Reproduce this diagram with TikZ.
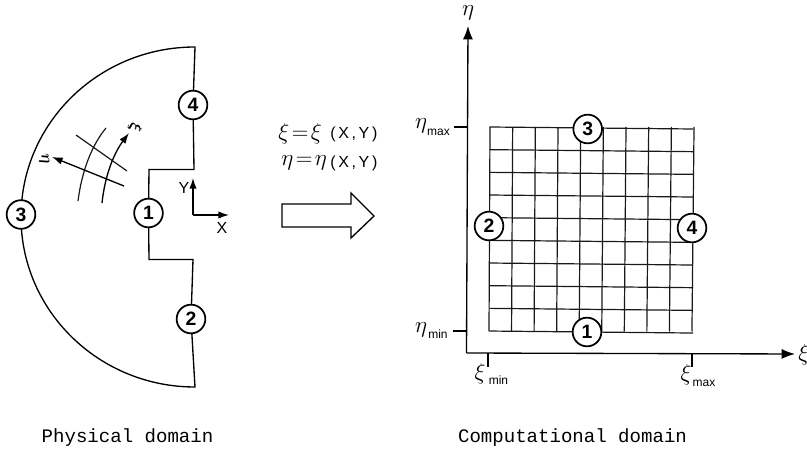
\documentclass[tikz,border=0pt]{standalone}
\usepackage{fontspec}
\setmainfont{Liberation Sans}
\setmonofont{Liberation Mono}
\usetikzlibrary{arrows.meta,backgrounds}
\tikzset{
  every picture/.style={x=0.75pt,y=-0.75pt},
  ink/.style={line width=1pt,black},
  gridline/.style={line width=0.9pt,black!90},
  station/.style={circle,draw=black,line width=1.3pt,fill=white,minimum size=21.5pt,inner sep=0pt,font=\fontsize{14.5}{15}\bfseries\selectfont},
  axisarrow/.style={ink,-{Latex[length=10pt,width=7.5pt]}},
  smallarrow/.style={ink,-{Latex[length=8pt,width=5.5pt]}},
  mathlabel/.style={inner sep=0pt,font=\fontsize{16}{18}\selectfont},
  skewlabel/.style={inner sep=0pt,font=\fontsize{13}{14}\selectfont\mathversion{bold}},
  sublabel/.style={inner sep=0pt,font=\fontsize{9}{10}\selectfont},
  xylabel/.style={inner sep=0pt,font=\fontsize{12}{13}\selectfont},
  caption/.style={inner sep=0pt,font=\fontsize{14.3}{16}\ttfamily\selectfont}
}
\begin{document}
\begin{tikzpicture}
\useasboundingbox (0,0) rectangle (807,452);
% stations, physical domain
\node[station] (p4) at (193,105) {4};
\node[station] (p1) at (148.5,213) {1};
\node[station] (p3) at (21,214.5) {3};
\node[station] (p2) at (191,319) {2};
% stations, computational domain
\node[station] (c3) at (587.7,129) {3};
\node[station] (c2) at (489,226) {2};
\node[station] (c4) at (692,228) {4};
\node[station] (c1) at (587,332) {1};
% corners
\coordinate (tr) at (195,47);
\coordinate (br) at (192,387);
\coordinate (n1) at (194,169.5);
\coordinate (n2) at (149,169.5);
\coordinate (n3) at (149,259.5);
\coordinate (n4) at (193,259.5);
\begin{scope}[on background layer]
  \draw[ink] (p4) -- (tr) arc[start angle=90,end angle=270,x radius=130.5pt,y radius=127.5pt] -- (p2);
  \draw[ink] (p4) -- (n1) -- (n2) -- (p1);
  \draw[ink] (p1) -- (n3) -- (n4) -- (p2);
  \foreach \k in {0,...,9} {
    \draw[gridline] ({490+\k*22.67},127) -- ({489+\k*22.55},331.5);
    \draw[gridline] (489.5,{127+\k*22.67}) -- (693,{129+\k*22.67});
  }
\end{scope}
% curvilinear sketch
\draw[gridline] (78,201) .. controls (82,170) and (92,145) .. (106,128);
\draw[smallarrow] (102,203) .. controls (105,175) and (114,153) .. (129,133);
\draw[gridline] (76,135) -- (127,171);
\draw[smallarrow] (124,186) -- (52,157);
\node[skewlabel,rotate=-100] (xilab) at (135,127) {$\xi$};
\node[skewlabel,rotate=-80] (etalab) at (44,159) {$\eta$};
% x,y axes
\coordinate (o) at (193,215);
\coordinate (yend) at (193,178);
\coordinate (xend) at (229,215);
\draw[smallarrow] (o) -- (yend);
\draw[smallarrow] (o) -- (xend);
\node[xylabel] (ylab) at (184,188) {Y};
\node[xylabel] (xlab) at (222,228) {X};
% mapping
\node[mathlabel,anchor=west] (f1a) at (278,134) {$\xi\!=\!\xi$};
\node[xylabel,anchor=west] (f1b) at (330,134) {(\,X\,,\,Y\,)};
\node[mathlabel,anchor=west] (f2a) at (281,163) {$\eta\!=\!\eta$};
\node[xylabel,anchor=west] (f2b) at (330,163) {(\,X\,,\,Y\,)};
\draw[ink] (282,204) -- (351,204) -- (351,193) -- (374,216) -- (351,238) -- (351,227) -- (282,227) -- cycle;
% computational axes
\coordinate (orig) at (466.5,353);
\coordinate (etaend) at (468,26);
\coordinate (xiend) at (795,354);
\draw[axisarrow] (orig) -- (etaend);
\draw[axisarrow] (orig) -- (xiend);
\node[mathlabel] (etaaxis) at (468,13) {$\eta$};
\node[mathlabel,anchor=west] (xiaxis) at (798,355) {$\xi$};
\coordinate (tmaxa) at (454,127);  \coordinate (tmaxb) at (468,127);
\coordinate (tmina) at (453,331);  \coordinate (tminb) at (467,331);
\coordinate (xmina) at (488,353);  \coordinate (xminb) at (488,367);
\coordinate (xmaxa) at (692,353);  \coordinate (xmaxb) at (692,367);
\draw[ink] (tmaxa) -- (tmaxb);
\draw[ink] (tmina) -- (tminb);
\draw[ink] (xmina) -- (xminb);
\draw[ink] (xmaxa) -- (xmaxb);
\node[mathlabel] (etamax) at (421,126) {$\eta$};
\node[sublabel] (etamaxs) at (438.5,132) {max};
\node[mathlabel] (etamin) at (421,330) {$\eta$};
\node[sublabel] (etamins) at (438,334) {min};
\node[mathlabel] (ximin) at (480,374) {$\xi$};
\node[sublabel] (ximins) at (498.5,380) {min};
\node[mathlabel] (ximax) at (686,375) {$\xi$};
\node[sublabel] (ximaxs) at (704,383) {max};
% captions
\node[caption] (cap1) at (127.5,438) {Physical domain};
\node[caption] (cap2) at (572.5,438) {Computational domain};
\end{tikzpicture}
\end{document}
